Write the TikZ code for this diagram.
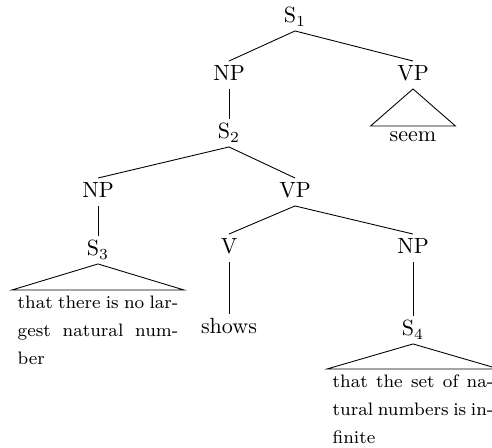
\documentclass[tikz,border=0pt]{standalone}
\usepackage{tikz}
\usetikzlibrary{calc}

% one justified line of a roof text
\newcommand{\jline}[1]{\leavevmode\hbox to 73pt{\spaceskip=0pt\xspaceskip=0pt\relax #1}}

\begin{document}
\begin{tikzpicture}[x=0.4545pt, y=-0.4545pt,
    cat/.style={inner sep=2pt, text height=6.8pt, text depth=1.5pt},
    roofleaf/.style={anchor=north, text width=73pt, inner xsep=2.4pt, inner ysep=2.5pt,
        align=left, font=\fontsize{8.2}{12.8}\selectfont}]
    \clip (0,0) rectangle (492,448);

    % S1
    \node[cat] (s_one) at (295,17) {S$_1$};
    \node[cat] (np_one) at (229,75) {NP};
    \node[cat] (vp_one) at (413,75) {VP};
    \node[anchor=north, inner xsep=8.5pt, inner ysep=1pt, text height=6pt] (seem) at (413,126) {seem};

    % S2
    \node[cat] (s_two) at (229,133) {S$_2$};
    \node[cat] (np_two) at (98,192) {NP};
    \node[cat] (vp_two) at (295,192) {VP};

    % S3
    \node[cat] (s_three) at (98,250) {S$_3$};
    \node[roofleaf] (s_three_txt) at (98,290)
    {\jline{that there is no lar-}\\ \jline{gest natural num-}\\ ber};

    % V
    \node[cat] (v) at (229,248) {V};
    \node[cat] (shows) at (229,328) {shows};

    % S4
    \node[cat] (np_three) at (413,248) {NP};
    \node[cat] (s_four) at (413,330) {S$_4$};
    \node[roofleaf] (s_four_txt) at (413,369)
    {\jline{that the set of na-}\\ \jline{tural numbers is in-}\\ finite};

    % branches
    \draw (s_one.south) -- (np_one.north);
    \draw (s_one.south) -- (vp_one.north);
    \draw (np_one.south) -- (s_two.north);
    \draw (s_two.south) -- (np_two.north);
    \draw (s_two.south) -- (vp_two.north);
    \draw (np_two.south) -- (s_three.north);
    \draw (vp_two.south) -- (v.north);
    \draw (vp_two.south) -- (np_three.north);
    \draw (v.south) -- (shows.north);
    \draw (np_three.south) -- (s_four.north);

    % roofs
    \draw (vp_one.south) -- (seem.north west) -- (seem.north east) -- cycle;
    \draw (s_three.south) -- (s_three_txt.north west) -- (s_three_txt.north east) -- cycle;
    \draw (s_four.south) -- (s_four_txt.north west) -- (s_four_txt.north east) -- cycle;
\end{tikzpicture}
\end{document}
